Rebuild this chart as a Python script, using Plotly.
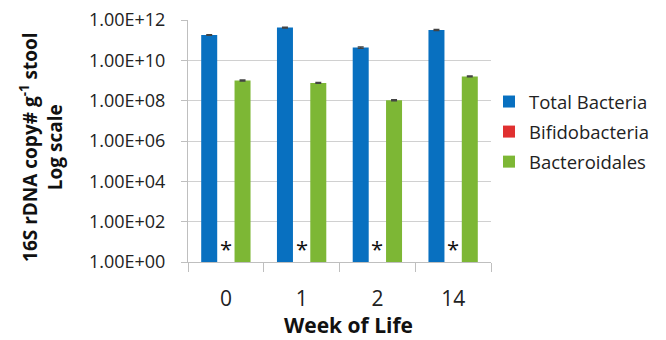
import plotly.graph_objects as go

# Weekly 16S rDNA counts (copies per gram of stool)
weeks = ["0", "1", "2", "14"]
total_bacteria = [1.8e11, 4.2e11, 4.3e10, 3.2e11]
total_err = [8.0e9, 1.8e10, 3.5e9, 1.8e10]
bifidobacteria = [0.5, 0.5, 0.5, 0.5]          # below detection limit
bacteroidales = [1.0e9, 7.6e8, 1.05e8, 1.6e9]
bacteroidales_err = [6.0e7, 4.5e7, 7.0e6, 1.0e8]
below_limit_mark = ["*", "*", "*", "*"]

FONT = "Open Sans"
L, R, T, B = 188, 173, 20, 78
W, H = 666, 340
pw, ph = W - L - R, H - T - B

err_style = dict(type="data", thickness=1.3, width=3, color="#444444")

fig = go.Figure()
fig.add_trace(go.Bar(
    name="Total Bacteria", x=weeks, y=total_bacteria,
    marker=dict(color="#0870C0", line=dict(width=0)),
    error_y=dict(array=total_err, **err_style),
    legendgroup="a",
))
fig.add_trace(go.Bar(
    name="Bifidobacteria", x=weeks, y=bifidobacteria,
    marker=dict(color="#E03030", line=dict(width=0)),
    legendgroup="b",
))
fig.add_trace(go.Bar(
    name="Bacteroidales", x=weeks, y=bacteroidales,
    marker=dict(color="#7DB735", line=dict(width=0)),
    error_y=dict(array=bacteroidales_err, **err_style),
    legendgroup="c",
))

# asterisks where Bifidobacteria were not detected (centred on each week)
for i, mark in enumerate(below_limit_mark):
    fig.add_annotation(x=i, y=0.7, xref="x", yref="y", text=mark,
                       showarrow=False, yanchor="middle",
                       font=dict(family=FONT, size=22, color="#111111"))

# y-axis title
fig.add_annotation(
    xref="paper", yref="paper", x=(40 - L) / pw, y=(H - B - 147) / ph,
    xanchor="center", yanchor="middle",
    text="<b>16S rDNA copy# g<sup>-1</sup> stool<br>Log scale</b>",
    textangle=-90, showarrow=False, font=dict(family=FONT, size=19, color="#111111"),
)
# x-axis title
fig.add_annotation(
    xref="paper", yref="paper", x=(350 - L) / pw, y=(H - B - 325) / ph,
    xanchor="center", yanchor="middle",
    text="<b>Week of Life</b>", showarrow=False,
    font=dict(family=FONT, size=21, color="#111111"),
)

tickvals = [1e0, 1e2, 1e4, 1e6, 1e8, 1e10, 1e12]
ticktext = ["1.00E+00", "1.00E+02", "1.00E+04", "1.00E+06", "1.00E+08", "1.00E+10", "1.00E+12"]

fig.update_layout(
    width=W, height=H,
    margin=dict(l=L, r=R, t=T, b=B),
    paper_bgcolor="white", plot_bgcolor="white",
    barmode="group", bargap=0.34, bargroupgap=0.04,
    font=dict(family=FONT, color="#222222"),
    showlegend=True,
    legend=dict(
        x=(491 - L) / pw, xanchor="left", y=(H - B - 132) / ph, yanchor="middle",
        font=dict(family=FONT, size=18.5, color="#222222"),
        tracegroupgap=3, itemwidth=30,
        bgcolor="rgba(0,0,0,0)",
    ),
    xaxis=dict(
        type="category", range=[-0.5, 3.5], dtick=1,
        tickson="boundaries", ticks="outside", ticklen=9,
        tickcolor="#BFBFBF", showline=True, linecolor="#BFBFBF", linewidth=1,
        showgrid=False, tickfont=dict(family=FONT, size=21, color="#222222"),
        ticklabelstandoff=18,
        automargin=False,
    ),
    yaxis=dict(
        type="log", range=[0, 12], tickvals=tickvals, ticktext=ticktext,
        ticks="outside", ticklen=6, tickcolor="#BFBFBF",
        showline=True, linecolor="#BFBFBF", linewidth=1,
        showgrid=True, gridcolor="#D0D0D0", gridwidth=1.2,
        tickfont=dict(family=FONT, size=18, color="#222222"),
        ticklabelstandoff=12,
        automargin=False, zeroline=False,
    ),
)

fig.write_html("out.html")
